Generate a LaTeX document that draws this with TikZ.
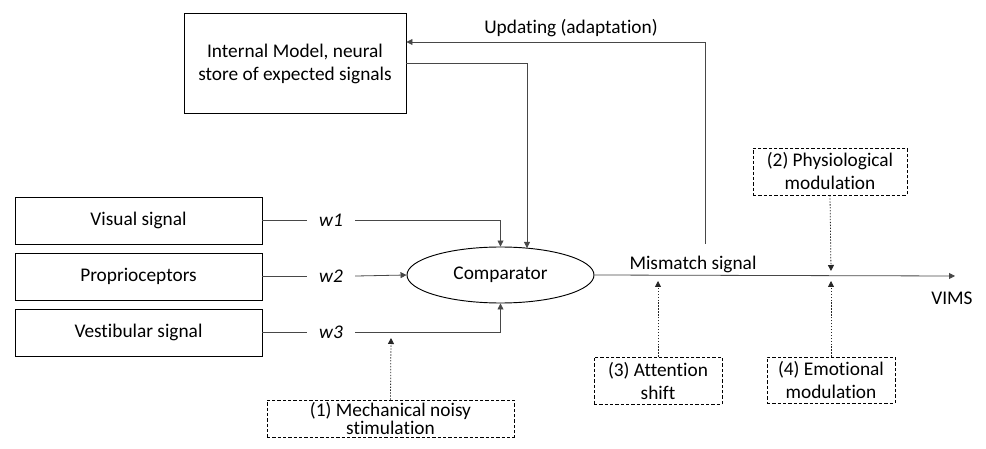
\documentclass[tikz,border=0pt]{standalone}
\usepackage{fontspec}
\setmainfont[Ligatures=NoCommon]{Carlito}
\usetikzlibrary{arrows.meta,calc,positioning,shapes.geometric}

\begin{document}
\begin{tikzpicture}[x=0.75pt,y=-0.75pt,
  font=\fontsize{14.5}{17.25}\selectfont,
  box/.style={draw,line width=0.7pt,inner sep=0pt,align=center},
  modbox/.style={draw,dashed,dash pattern=on 2.5pt off 1.5pt,line width=0.6pt,inner sep=0pt,align=center},
  weight/.style={inner xsep=9pt,font=\fontsize{14.5}{17.25}\selectfont\itshape},
  link/.style={draw=black!72,line width=0.6pt},
  tip/.style={-{Triangle[length=4.5pt,width=4.5pt]}},
  modlink/.style={draw=black!85,line width=0.6pt,dash pattern=on 1pt off 1.2pt}]
  \useasboundingbox (0,0) rectangle (986,449);
  \node[box,minimum width=166.5pt,minimum height=75pt] (model) at (295,63.5) {Internal Model, neural\\store of expected signals};
  \node[box,minimum width=185.25pt,minimum height=35.25pt] (visual) at (138.5,220.5) {Visual signal};
  \node[box,minimum width=185.25pt,minimum height=35.25pt] (propr) at (138.5,276.5) {Proprioceptors};
  \node[box,minimum width=185.25pt,minimum height=35.25pt] (vestib) at (138.5,332.5) {Vestibular signal};
  \node[draw,ellipse,line width=0.7pt,inner sep=0pt,minimum width=140.25pt,minimum height=42pt] (comp) at (500.5,275) {Comparator};
  \node[modbox,minimum width=185.25pt,minimum height=27.75pt,font=\fontsize{14.5}{11}\selectfont] (mech) at (390.5,418.5) {(1) Mechanical noisy\\stimulation};
  \node[modbox,minimum width=115.5pt,minimum height=35.25pt] (physio) at (830,171.5) {(2) Physiological\\modulation};
  \node[modbox,minimum width=96pt,minimum height=35.25pt] (attent) at (658,380.5) {(3) Attention\\shift};
  \node[modbox,minimum width=96pt,minimum height=34.5pt] (emot) at (831,380) {(4) Emotional\\modulation};
  \node[weight] (w1) at (331,220.5) {w1};
  \node[weight] (w2) at (331,276.5) {w2};
  \node[weight] (w3) at (331,332.5) {w3};
  \coordinate (cmptop) at (527,248);
  \coordinate (tap) at (705,244);
  \coordinate (turn) at (705,42);
  \coordinate (vims) at (955,276);
  \coordinate (mechtip) at (391,338);
  \coordinate (physiotip) at (831,271);
  \coordinate (attenttip) at (658,281);
  \coordinate (emottip) at (831,281);
  \draw[link] (visual.east) -- (w1);
  \draw[link] (propr.east) -- (w2);
  \draw[link] (vestib.east) -- (w3);
  \draw[link,tip] (w1) -| (comp.north);
  \draw[link,tip] (w2) -- (comp.west);
  \draw[link,tip] (w3) -| (comp.south);
  \draw[link,tip] (model.east) -| (cmptop);
  \draw[link,tip] (comp.east) -- (vims);
  \draw[link,tip] (tap) -- (turn) -- (turn -| model.east);
  \draw[modlink,tip] (mech.north) -- (mechtip);
  \draw[modlink,tip] (physio.south) -- (physiotip);
  \draw[modlink,tip] (attent.north) -- (attenttip);
  \draw[modlink,tip] (emot.north) -- (emottip);
  \node at (571,28) {Updating (adaptation)};
  \node at (693,264) {Mismatch signal};
  \node at (952,298) {VIMS};
\end{tikzpicture}
\end{document}
